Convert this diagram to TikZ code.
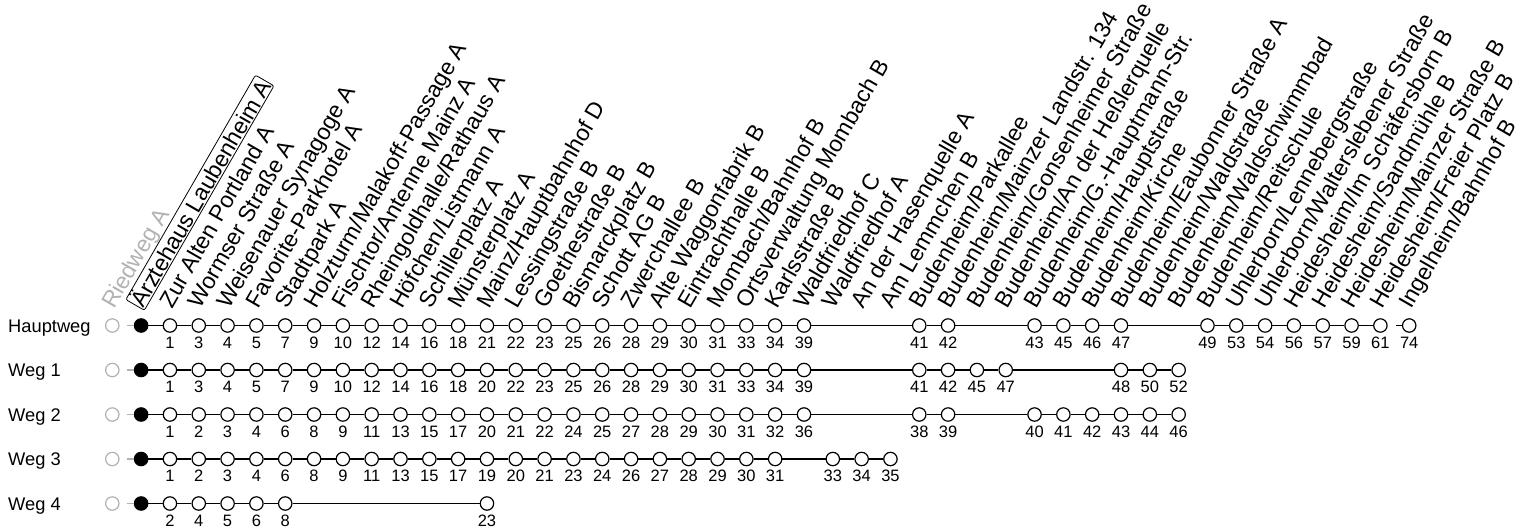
\documentclass[tikz,border=0pt]{standalone}
\usepackage{fontspec}
\setmainfont{Liberation Sans}
\newcommand\mkrow[3]{%
  \node[stngray] (#1-0) at (112.3,#2) {};
  \node[stnblack] (#1-1) at (141.12,#2) {};
  \foreach \c/\n in {#3} {
    \node[stn] (#1-\c) at ({112.3+28.82*\c},#2) {};
    \node[num] (#1-n\c) at ({112.3+28.82*\c},{#2+22.5}) {\n};
  }
  \draw[conn,draw=black!30,shorten <=7pt] (#1-0) -- (#1-1);
}
\newcommand\seqlines[2]{%
  \foreach \a in {1,...,#2} {\pgfmathtruncatemacro\b{\a+1}\draw[conn] (#1-\a) -- (#1-\b);}
}
\newcommand\pairlines[2]{%
  \foreach \a/\b in {#2} {\draw[conn] (#1-\a) -- (#1-\b);}
}
\begin{document}
\begin{tikzpicture}[x=1pt,y=-1pt,
  stn/.style={circle,draw,line width=1.2pt,minimum size=13.4pt,inner sep=0pt,fill=white},
  stnblack/.style={stn,fill=black},
  stngray/.style={stn,draw=black!30},
  conn/.style={line width=1.2pt},
  num/.style={font=\fontsize{16.5}{19}\selectfont,anchor=base,inner sep=0pt},
  rowlab/.style={font=\fontsize{18.3}{22}\selectfont,anchor=base west,inner sep=0pt},
  toplab/.style={font=\fontsize{22.9}{27}\selectfont,rotate=60,anchor=base west,inner sep=0pt},
]
\useasboundingbox (0,0) rectangle (1530,532);

% top labels
\node[toplab,text=black!30] (L0) at ({112.3+2},310) {Riedweg A};
\node[toplab,draw,rounded corners=2pt,inner sep=1pt,line width=0.8pt] (L1) at ({112.3+28.82+2},310) {Ärztehaus Laubenheim A};
\foreach \c/\t in {2/{Zur Alten Portland A},3/{Wormser Straße A},4/{Weisenauer Synagoge A},5/{Favorite-Parkhotel A},6/{Stadtpark A},7/{Holzturm/Malakoff-Passage A},8/{Fischtor/Antenne Mainz A},9/{Rheingoldhalle/Rathaus A},10/{Höfchen/Listmann A},11/{Schillerplatz A},12/{Münsterplatz A},13/{Mainz/Hauptbahnhof D},14/{Lessingstraße B},15/{Goethestraße B},16/{Bismarckplatz B},17/{Schott AG B},18/{Zwerchallee B},19/{Alte Waggonfabrik B},20/{Eintrachthalle B},21/{Mombach/Bahnhof B},22/{Ortsverwaltung Mombach B},23/{Karlsstraße B},24/{Waldfriedhof C},25/{Waldfriedhof A},26/{An der Hasenquelle A},27/{Am Lemmchen B},28/{Budenheim/Parkallee},29/{Budenheim/Mainzer Landstr. 134},30/{Budenheim/Gonsenheimer Straße},31/{Budenheim/An der Heßlerquelle},32/{Budenheim/G.-Hauptmann-Str.},33/{Budenheim/Hauptstraße},34/{Budenheim/Kirche},35/{Budenheim/Eaubonner Straße A},36/{Budenheim/Waldstraße},37/{Budenheim/Waldschwimmbad},38/{Budenheim/Reitschule},39/{Uhlerborn/Lennebergstraße},40/{Uhlerborn/Walterslebener Straße},41/{Heidesheim/Im Schäfersborn B},42/{Heidesheim/Sandmühle B},43/{Heidesheim/Mainzer Straße B},44/{Heidesheim/Freier Platz B},45/{Ingelheim/Bahnhof B}}
  {\node[toplab] (L\c) at ({112.3+28.82*\c+2},310) {\t};}

% row labels
\node[rowlab] (rH) at (8,332.2) {Hauptweg};
\node[rowlab] (rA) at (8,376.7) {Weg 1};
\node[rowlab] (rB) at (8,421.2) {Weg 2};
\node[rowlab] (rC) at (8,465.7) {Weg 3};
\node[rowlab] (rD) at (8,510.2) {Weg 4};

% Hauptweg
\mkrow{H}{325.5}{2/1,3/3,4/4,5/5,6/7,7/9,8/10,9/12,10/14,11/16,12/18,13/21,14/22,15/23,16/25,17/26,18/28,19/29,20/30,21/31,22/33,23/34,24/39,28/41,29/42,32/43,33/45,34/46,35/47,38/49,39/53,40/54,41/56,42/57,43/59,44/61,45/74}
\seqlines{H}{23}
\pairlines{H}{24/28,28/29,29/32,32/33,33/34,34/35,35/38,38/39,39/40,40/41,41/42,42/43,43/44}
\draw[conn,shorten <=8pt] (H-44) -- (H-45);

% Weg 1
\mkrow{A}{370}{2/1,3/3,4/4,5/5,6/7,7/9,8/10,9/12,10/14,11/16,12/18,13/20,14/22,15/23,16/25,17/26,18/28,19/29,20/30,21/31,22/33,23/34,24/39,28/41,29/42,30/45,31/47,35/48,36/50,37/52}
\seqlines{A}{23}
\pairlines{A}{24/28,28/29,29/30,30/31,31/35,35/36,36/37}

% Weg 2
\mkrow{B}{414.5}{2/1,3/2,4/3,5/4,6/6,7/8,8/9,9/11,10/13,11/15,12/17,13/20,14/21,15/22,16/24,17/25,18/27,19/28,20/29,21/30,22/31,23/32,24/36,28/38,29/39,32/40,33/41,34/42,35/43,36/44,37/46}
\seqlines{B}{23}
\pairlines{B}{24/28,28/29,29/32,32/33,33/34,34/35,35/36,36/37}

% Weg 3
\mkrow{C}{459}{2/1,3/2,4/3,5/4,6/6,7/8,8/9,9/11,10/13,11/15,12/17,13/19,14/20,15/21,16/23,17/24,18/26,19/27,20/28,21/29,22/30,23/31,25/33,26/34,27/35}
\seqlines{C}{22}
\pairlines{C}{23/25,25/26,26/27}

% Weg 4
\mkrow{D}{503.5}{2/2,3/4,4/5,5/6,6/8,13/23}
\seqlines{D}{5}
\pairlines{D}{6/13}
\end{tikzpicture}
\end{document}
